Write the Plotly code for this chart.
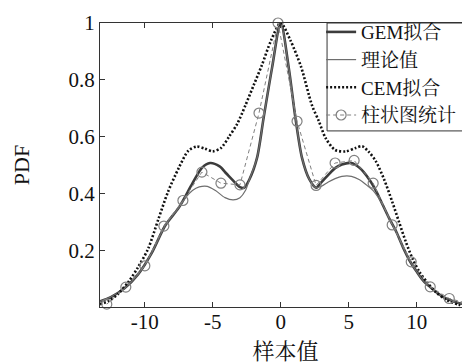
import plotly.graph_objects as go

# ---- data ----
gem_x = [-13.3, -12.5, -11.5, -10.5, -9.5, -8.5, -7.5, -6.5, -5.8, -5.2, -4.5, -4.0, -3.5, -3.0, -2.7,
         -2.3, -1.75, -1.26, -0.64, 0.0, 0.59, 1.08, 1.57, 2.1, 2.6, 3.0, 3.5, 4.0, 4.5, 5.2, 5.8, 6.5,
         7.0, 7.5, 8.0, 8.5, 9.0, 9.5, 10.0, 10.5, 11.0, 11.5, 12.0, 12.5, 13.0, 13.5, 14.0]
gem_y = [0.02, 0.035, 0.066, 0.115, 0.19, 0.287, 0.35, 0.435, 0.49, 0.507, 0.495, 0.47, 0.445, 0.422, 0.42,
         0.45, 0.524, 0.666, 0.842, 1.0, 0.842, 0.666, 0.524, 0.45, 0.42, 0.44, 0.465, 0.489, 0.502, 0.507, 0.49, 0.45,
         0.41, 0.36, 0.31, 0.265, 0.21, 0.162, 0.125, 0.092, 0.07, 0.05, 0.034, 0.024, 0.015, 0.01, 0.006]

theory_x = [-13.3, -12.5, -11.5, -10.5, -9.5, -8.5, -7.5, -7.0, -6.5, -6.0, -5.4, -4.8, -4.1, -3.5, -3.0,
            -2.6, -2.3, -1.75, -1.26, -0.64, 0.0, 0.59, 1.08, 1.57, 2.1, 2.6, 3.0, 3.5, 4.0, 4.5, 5.2, 5.8,
            6.3, 6.8, 7.5, 8.0, 8.5, 9.0, 9.5, 10.0, 10.5, 11.0, 11.5, 12.0, 12.5, 13.0, 13.5, 14.0]
theory_y = [0.02, 0.035, 0.066, 0.115, 0.19, 0.287, 0.35, 0.385, 0.41, 0.423, 0.425, 0.41, 0.385, 0.377, 0.385,
            0.41, 0.45, 0.524, 0.666, 0.842, 1.0, 0.842, 0.666, 0.524, 0.45, 0.42, 0.425, 0.44, 0.452, 0.46, 0.46, 0.448,
            0.43, 0.41, 0.36, 0.31, 0.265, 0.21, 0.162, 0.125, 0.092, 0.07, 0.05, 0.034, 0.024, 0.015, 0.01, 0.006]

cem_x = [-13.3, -12.7, -12.0, -11.2, -10.5, -9.75, -9.0, -8.3, -7.5, -6.8, -6.2, -5.6, -5.0, -4.4, -3.8,
         -3.2, -2.6, -2.0, -1.4, -0.7, 0.0, 0.7, 1.5, 2.3, 2.8, 3.3, 4.0, 4.8, 5.5, 6.0, 6.5, 7.0, 7.6,
         8.2, 8.7, 9.2, 9.7, 10.2, 10.8, 11.4, 12.2, 13.1, 14.0]
cem_y = [0.01, 0.02, 0.045, 0.089, 0.14, 0.206, 0.31, 0.405, 0.49, 0.55, 0.565, 0.558, 0.548, 0.56, 0.6,
         0.645, 0.71, 0.78, 0.85, 0.94, 1.0, 0.94, 0.845, 0.71, 0.655, 0.595, 0.553, 0.548, 0.56, 0.566, 0.545, 0.513, 0.45,
         0.371, 0.3, 0.23, 0.17, 0.124, 0.085, 0.053, 0.025, 0.008, 0.003]

hist_x = [-12.8, -11.4, -10.0, -8.6, -7.2, -5.8, -4.4, -3.0, -1.6, -0.2, 1.2, 2.6, 4.0, 5.4, 6.8,
          8.2, 9.6, 11.0, 12.4, 13.8]
hist_y = [0.01, 0.07, 0.145, 0.285, 0.375, 0.475, 0.436, 0.43, 0.683, 1.0, 0.654, 0.428, 0.507, 0.516, 0.436,
          0.289, 0.159, 0.071, 0.03, 0.012]

names = ["GEM拟合", "理论值", "CEM拟合", "柱状图统计"]
x_tickvals = [-10, -5, 0, 5, 10]
x_ticktext = ["-10", "-5", "0", "5", "10"]
y_tickvals = [0.2, 0.4, 0.6, 0.8, 1]
y_ticktext = ["0.2", "0.4", "0.6", "0.8", "1"]

FONT = "Liberation Serif, Noto Serif CJK SC, Noto Sans CJK SC, serif"
FS = 21

fig = go.Figure()
fig.add_trace(go.Scatter(x=gem_x, y=gem_y, name=names[0], mode="lines",
                         line=dict(color="#3c3c3c", width=2.6, shape="spline", smoothing=0.8)))
fig.add_trace(go.Scatter(x=theory_x, y=theory_y, name=names[1], mode="lines",
                         line=dict(color="#6e6e6e", width=1.2, shape="spline", smoothing=0.8)))
fig.add_trace(go.Scatter(x=cem_x, y=cem_y, name=names[2], mode="lines",
                         line=dict(color="#111111", width=2.6, dash="2px,2px", shape="spline", smoothing=0.8)))
fig.add_trace(go.Scatter(x=hist_x, y=hist_y, name=names[3], mode="lines+markers", cliponaxis=False,
                         line=dict(color="#808080", width=1, dash="4px,3px"),
                         marker=dict(symbol="circle-open", size=10, color="#808080", line=dict(width=1.2))))

axis_common = dict(showline=True, linecolor="#333333", linewidth=1, mirror="ticks",
                   ticks="inside", ticklen=5, tickcolor="#333333", showgrid=False, zeroline=False,
                   automargin=False,
                   tickfont=dict(family=FONT, size=FS, color="#111111"))

fig.update_layout(
    width=470, height=363,
    margin=dict(l=92, r=7, t=15, b=64, autoexpand=False),
    paper_bgcolor="white", plot_bgcolor="white",
    font=dict(family=FONT, size=FS, color="#111111"),
    xaxis=dict(range=[-13.3, 14.0], tickvals=x_tickvals, ticktext=x_ticktext, ticklabelstandoff=-4,
               title=dict(text="样本值", font=dict(family=FONT, size=22), standoff=10), **axis_common),
    yaxis=dict(range=[0, 1], tickvals=y_tickvals, ticktext=y_ticktext,
               title=dict(text="PDF", font=dict(family=FONT, size=22), standoff=32), **axis_common),
    legend=dict(x=0.596, y=1.035, xanchor="left", yanchor="top", bgcolor="rgba(0,0,0,0)",
                borderwidth=0, font=dict(family=FONT, size=19),
                itemwidth=30, tracegroupgap=0),
    showlegend=True,
    shapes=[dict(type="rect", xref="paper", yref="paper", x0=0.612, x1=1.011, y0=0.62, y1=1.0,
                 fillcolor="white", line=dict(color="#333333", width=1), layer="above")],
)

fig.write_html("out.html")
